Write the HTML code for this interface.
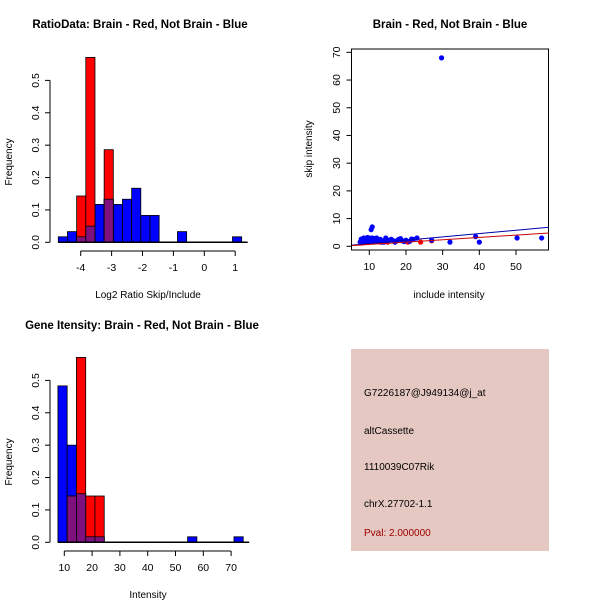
<!DOCTYPE html>
<html><head><meta charset="utf-8"><style>
body{margin:0;background:#fff}
svg{display:block;font-family:"Liberation Sans",sans-serif}
</style></head><body>
<svg id="s" width="600" height="600" viewBox="0 0 600 600">
<rect width="600" height="600" fill="#fff"/>
<text x="140" y="28" text-anchor="middle" font-size="11.5" font-weight="bold">RatioData: Brain - Red, Not Brain - Blue</text>
<text x="450" y="28" text-anchor="middle" font-size="11.5" font-weight="bold">Brain - Red, Not Brain - Blue</text>
<text x="142" y="329" text-anchor="middle" font-size="11.5" font-weight="bold">Gene Itensity: Brain - Red, Not Brain - Blue</text>
<text x="148" y="298" text-anchor="middle" font-size="10">Log2 Ratio Skip/Include</text>
<text x="12" y="162" text-anchor="middle" font-size="10" transform="rotate(-90 12 162)">Frequency</text>
<text x="148" y="598" text-anchor="middle" font-size="10">Intensity</text>
<text x="12" y="462" text-anchor="middle" font-size="10" transform="rotate(-90 12 462)">Frequency</text>
<text x="449" y="298" text-anchor="middle" font-size="10">include intensity</text>
<text x="312" y="149" text-anchor="middle" font-size="10" transform="rotate(-90 312 149)">skip intensity</text>
<rect x="351" y="349" width="198" height="202" fill="#e5c8c1"/>
<text x="364" y="396" font-size="10">G7226187@J949134@j_at</text>
<text x="364" y="434" font-size="10">altCassette</text>
<text x="364" y="470" font-size="10">1110039C07Rik</text>
<text x="364" y="507" font-size="10">chrX.27702-1.1</text>
<text x="364" y="536" font-size="10" fill="#a00000">Pval: 2.000000</text>
</svg>
<script>
// Ratio histogram data (20 bins from -4.725)
const ratioBinStart = -4.725, ratioBinWidth = 0.2967;
const ratioBlue = [0.017,0.033,0.017,0.05,0.117,0.133,0.117,0.133,0.167,0.083,0.083,0,0,0.033,0,0,0,0,0,0.017];
const ratioRed = [0,0,0.143,0.571,0,0.286];
const ratioXTicks = [-4,-3,-2,-1,0,1];
const freqTicks = [0,0.1,0.2,0.3,0.4,0.5];
const freqTickLabels = ["0.0","0.1","0.2","0.3","0.4","0.5"];
// Intensity histogram data
const intBinStart = 7.7, intBinWidth = 3.333;
const intBlue = [0.483,0.3,0.15,0.017,0.017,0,0,0,0,0,0,0,0,0,0.017,0,0,0,0,0.017];
const intRed = [0,0.143,0.571,0.143,0.143];
const intXTicks = [10,20,30,40,50,60,70];
// Scatter data
const blueX = [7.5,8,8.3,8.7,9,9.2,9.5,9.8,10,10.3,10.5,10.8,11,11.5,12,12.5,13,14,14.5,15,16,16.5,17,18,18.5,19,20,21,22,23,10.5,10.8,29.7,27,32,39,40,50.3,57,8.5,9.5,11,12,13.5,7.8,8.2,9,10,11.2,12.2,14,15.5,17.5,19.5,21.5];
const blueY = [1.5,2,1.8,2.2,2.5,1.7,2.8,2,3,2.5,2,3,2.2,2.8,2,1.8,2.5,2,3,1.8,2.5,2,1.5,2.5,2.8,2,2.2,1.8,2.5,3,6,7,68,2.2,1.5,3.5,1.5,3,3,3,3.2,2.5,3,1.5,2.6,1.4,1.6,1.8,1.6,2.4,1.5,2.2,2.0,1.7,2.6];
const redX = [8,9,11,13,15,20.5,24,27];
const redY = [1.2,1.5,1.8,1.5,1.5,1.5,1.5,2];
const scatterXTicks = [10,20,30,40,50];
const scatterYTicks = [0,10,20,30,40,50,60,70];
const blueFit = [-0.2,0.12];   // intercept, slope
const redFit = [-0.2,0.085];

const svg = document.getElementById('s');
const NS = 'http://www.w3.org/2000/svg';
function mk(tag, attrs){const e=document.createElementNS(NS,tag);for(const k in attrs)e.setAttribute(k,attrs[k]);svg.appendChild(e);return e;}

function hist(name, x, y, start, w, blue, red, xticks, axisY, yAxisX){
  function bar(i,v,fill,nm){
    if(v<=0) return;
    const x1=x(start+i*w), x2=x(start+(i+1)*w);
    const r=mk('rect',{x:x1,y:y(v),width:x2-x1,height:y(0)-y(v),fill:fill,stroke:'#000','stroke-width':0.8});
    
    
  }
  blue.forEach((v,i)=>bar(i,v,'#0000ff',name+'-blue-bar'));
  red.forEach((v,i)=>bar(i,v,'#ff0000',name+'-red-bar'));
  red.forEach((v,i)=>{const b=blue[i]||0;bar(i,Math.min(v,b),'#7f117f',name+'-overlap-bar');});
  const n=Math.max(blue.length,red.length);
  const base=mk('line',{x1:x(start),x2:x(start+n*w)+6,y1:y(0),y2:y(0),stroke:'#000','stroke-width':1.5});
  
  
  const xa=mk('line',{x1:x(xticks[0]),x2:x(xticks[xticks.length-1]),y1:axisY,y2:axisY,stroke:'#000'});
  
  
  xticks.forEach(t=>{
    mk('line',{x1:x(t),x2:x(t),y1:axisY,y2:axisY+5,stroke:'#000'});
    const tx=mk('text',{x:x(t),y:axisY+20,'text-anchor':'middle','font-size':10.5});
    tx.textContent=t;
    
    
  });
  const ya=mk('line',{x1:yAxisX,x2:yAxisX,y1:y(0),y2:y(0.5),stroke:'#000'});
  
  
  freqTicks.forEach((t,i)=>{
    mk('line',{x1:yAxisX-5,x2:yAxisX,y1:y(t),y2:y(t),stroke:'#000'});
    const tx=mk('text',{x:yAxisX-11,y:y(t),'text-anchor':'middle','font-size':10.5,transform:`rotate(-90 ${yAxisX-11} ${y(t)})`});
    tx.textContent=freqTickLabels[i];
    
    
  });
}
const y1=v=>242.3-v*323.8;
const x1=v=>80.7+(v+4)*30.9;
hist('ratio',x1,y1,ratioBinStart,ratioBinWidth,ratioBlue,ratioRed,ratioXTicks,251,50);
const y3=v=>542.3-v*323.8;
const x3=v=>64.3+(v-10)*2.78;
hist('intensity',x3,y3,intBinStart,intBinWidth,intBlue,intRed,intXTicks,551,50);

const sx=v=>369.3+(v-10)*3.667;
const sy=v=>246.3-v*2.771;
const box=mk('rect',{x:351.5,y:49,width:197,height:201,fill:'none',stroke:'#000'});


scatterXTicks.forEach(t=>{
  mk('line',{x1:sx(t),x2:sx(t),y1:250,y2:255,stroke:'#000'});
  const tx=mk('text',{x:sx(t),y:270,'text-anchor':'middle','font-size':10.5});tx.textContent=t;
  
  
});
scatterYTicks.forEach(t=>{
  mk('line',{x1:346.5,x2:351.5,y1:sy(t),y2:sy(t),stroke:'#000'});
  const tx=mk('text',{x:340,y:sy(t),'text-anchor':'middle','font-size':10.5,transform:`rotate(-90 340 ${sy(t)})`});tx.textContent=t;
  
  
});
redX.forEach((v,i)=>{const c=mk('circle',{cx:sx(v),cy:sy(redY[i]),r:2.6,fill:'#ff0000'});
  
  });
blueX.forEach((v,i)=>{const c=mk('circle',{cx:sx(v),cy:sy(blueY[i]),r:2.6,fill:'#0000ff'});
  
  });
function fit(f,col,nm){const a=5.2,b=59;
  const l=mk('line',{x1:sx(a),y1:sy(f[0]+f[1]*a),x2:sx(b),y2:sy(f[0]+f[1]*b),stroke:col,'stroke-width':1});
  
  }
fit(blueFit,'#0000aa','blue-fit-line');
fit(redFit,'#cc0000','red-fit-line');
</script>
</body></html>
